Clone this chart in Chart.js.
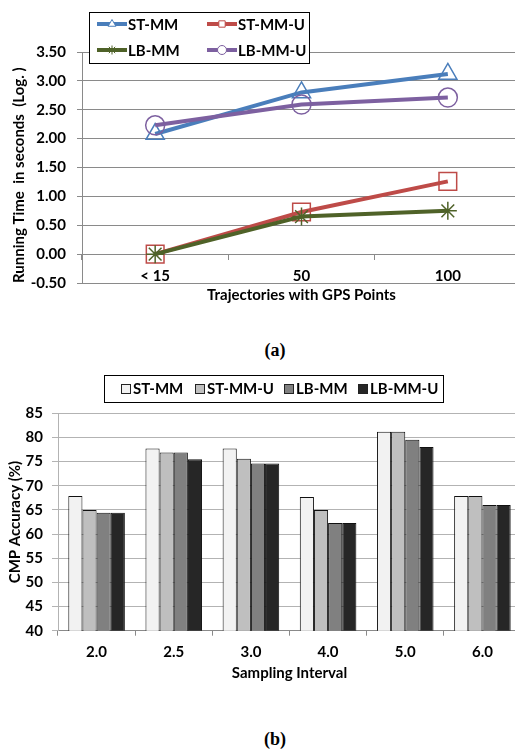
<!DOCTYPE html>
<html>
<head>
<meta charset="utf-8">
<script src="https://cdn.jsdelivr.net/npm/chart.js@4.4.1/dist/chart.umd.min.js"></script>
<style>
  html, body { margin: 0; padding: 0; background: #fff; overflow: hidden; width: 515px; height: 752px; }
  canvas { position: absolute; left: 0; }
  #chartA { top: 0; }
  #chartB { top: 360px; }
  .cap { position: absolute; left: 235px; width: 80px; text-align: center;
         font: bold 18px "Liberation Serif", "Times New Roman", serif; color: #000; }
</style>
</head>
<body>
<canvas id="chartA" width="521" height="337"></canvas>
<div class="cap" style="top:340px">(a)</div>
<canvas id="chartB" width="521" height="326"></canvas>
<div class="cap" style="top:729px">(b)</div>
<script>
// ---- data (a): running time, log seconds
const trajLabels = ['< 15', '50', '100'];
const seriesNames = ['ST-MM', 'ST-MM-U', 'LB-MM', 'LB-MM-U'];
const runStMM = [2.08, 2.80, 3.12];
const runStMMU = [0.00, 0.73, 1.26];
const runLbMM = [0.00, 0.65, 0.75];
const runLbMMU = [2.23, 2.59, 2.71];

// ---- data (b): CMP accuracy (%)
const intervalLabels = ['2.0', '2.5', '3.0', '4.0', '5.0', '6.0'];
const accStMM = [67.9, 77.7, 77.7, 67.7, 81.2, 67.9];
const accStMMU = [65.0, 76.9, 75.6, 65.0, 81.2, 67.9];
const accLbMM = [64.4, 76.9, 74.6, 62.3, 79.5, 66.0];
const accLbMMU = [64.4, 75.5, 74.6, 62.3, 78.0, 66.0];

const FONT = 'Lato, "Liberation Sans", sans-serif';
Chart.defaults.font.family = FONT;
Chart.defaults.font.size = 15;
Chart.defaults.font.weight = 'bold';
Chart.defaults.color = '#000';

const GRID_A = '#8a8a8a';
const GRID_B = '#b3b3b3';

function lineSet(label, data, color, style, radius, order) {
  return {
    label, data, order,
    borderColor: color,
    backgroundColor: color,
    borderWidth: 4,
    pointStyle: style,
    pointRadius: radius,
    pointBorderWidth: 1.5,
    pointBorderColor: color,
    pointBackgroundColor: 'rgba(255,255,255,0)',
    tension: 0
  };
}

function drawMarker(ctx, style, r, x, y) {
  if (Chart.helpers && Chart.helpers.drawPoint) {
    Chart.helpers.drawPoint(ctx, { pointStyle: style, radius: r, borderWidth: 1, rotation: 0 }, x, y);
  }
}

// legend box drawn over the plot, like the original
const legendA = {
  id: 'legendA',
  afterDraw(chart) {
    const ctx = chart.ctx;
    ctx.save();
    ctx.fillStyle = '#fff';
    ctx.fillRect(89, 12, 220, 51);
    ctx.strokeStyle = '#000';
    ctx.lineWidth = 1;
    ctx.strokeRect(89.5, 12.5, 220, 51);
    chart.data.datasets.forEach((ds, i) => {
      const x0 = [97, 207][i % 2];
      const y0 = [24, 50][Math.floor(i / 2)];
      ctx.strokeStyle = ds.borderColor;
      ctx.lineWidth = 4;
      ctx.beginPath();
      ctx.moveTo(x0, y0);
      ctx.lineTo(x0 + 30, y0);
      ctx.stroke();
      ctx.fillStyle = '#fff';
      ctx.strokeStyle = ds.borderColor;
      ctx.lineWidth = 1;
      drawMarker(ctx, ds.pointStyle, 4.5, x0 + 15, y0);
      ctx.fillStyle = '#000';
      ctx.font = 'bold 15px ' + FONT;
      ctx.textBaseline = 'middle';
      ctx.textAlign = 'left';
      ctx.fillText(ds.label, x0 + 31, y0 + 1);
    });
    ctx.restore();
  }
};

const legendB = {
  id: 'legendB',
  afterDraw(chart) {
    const ctx = chart.ctx;
    ctx.save();
    ctx.strokeStyle = '#000';
    ctx.lineWidth = 1;
    ctx.strokeRect(104.5, 15.5, 339, 27);
    const xs = [121, 195, 284, 358];
    chart.data.datasets.forEach((ds, i) => {
      ctx.fillStyle = ds.backgroundColor;
      ctx.fillRect(xs[i], 24, 10, 10);
      ctx.strokeStyle = '#222';
      ctx.strokeRect(xs[i] + 0.5, 24.5, 9, 9);
      ctx.fillStyle = '#000';
      ctx.font = 'bold 15px ' + FONT;
      ctx.textBaseline = 'middle';
      ctx.textAlign = 'left';
      ctx.fillText(ds.label, xs[i] + 12, 29);
    });
    ctx.restore();
  }
};

new Chart(document.getElementById('chartA'), {
  type: 'line',
  data: {
    labels: trajLabels,
    datasets: [
      lineSet(seriesNames[0], runStMM, '#4A7EBB', 'triangle', 10.5, 3),
      lineSet(seriesNames[1], runStMMU, '#BE4B48', 'rect', 12.5, 2),
      lineSet(seriesNames[2], runLbMM, '#4F6228', 'star', 9, 1),
      lineSet(seriesNames[3], runLbMMU, '#7D60A0', 'circle', 9.5, 0)
    ]
  },
  options: {
    responsive: false,
    animation: false,
    layout: { autoPadding: false, padding: { top: 52, left: 0, right: 0, bottom: 54 } },
    plugins: { legend: { display: false }, tooltip: { enabled: false } },
    scales: {
      x: {
        type: 'category',
        position: { y: 0 },
        offset: true,
        grid: { drawOnChartArea: false, offset: true, tickLength: 5, color: GRID_A },
        border: { color: GRID_A },
        ticks: { padding: 8 },
        title: { display: true, text: 'Trajectories with GPS Points', padding: { top: 4, bottom: 4 } },
        afterFit: s => { s.height = 54; }
      },
      y: {
        min: -0.5,
        max: 3.5,
        ticks: { stepSize: 0.5, padding: 11, callback: v => Number(v).toFixed(2) },
        grid: { tickLength: 5, color: GRID_A },
        border: { color: GRID_A },
        title: { display: true, text: 'Running Time  in seconds  (Log. )', align: 'start', padding: { top: 10, bottom: 0 } },
        afterFit: s => { s.width = 82; }
      }
    }
  },
  plugins: [legendA]
});

function barSet(label, data, color) {
  return { label, data, backgroundColor: color, borderColor: '#111', borderWidth: 1,
           categoryPercentage: 0.733, barPercentage: 1.0 };
}

new Chart(document.getElementById('chartB'), {
  type: 'bar',
  data: {
    labels: intervalLabels,
    datasets: [
      barSet(seriesNames[0], accStMM, '#F2F2F2'),
      barSet(seriesNames[1], accStMMU, '#BFBFBF'),
      barSet(seriesNames[2], accLbMM, '#808080'),
      barSet(seriesNames[3], accLbMMU, '#262626')
    ]
  },
  options: {
    responsive: false,
    animation: false,
    layout: { autoPadding: false, padding: { top: 53.3, left: 0, right: 0, bottom: 0 } },
    plugins: { legend: { display: false }, tooltip: { enabled: false } },
    scales: {
      x: {
        grid: { drawOnChartArea: false, offset: true, tickLength: 5, color: '#8a8a8a' },
        border: { color: '#8a8a8a' },
        ticks: { padding: 7 },
        title: { display: true, text: 'Sampling Interval', padding: { top: 4, bottom: 4 } },
        afterFit: s => { s.height = 326 - 270.7; }
      },
      y: {
        min: 40,
        max: 85,
        ticks: { stepSize: 5, padding: 9 },
        grid: { tickLength: 6, color: GRID_B },
        border: { color: GRID_B },
        title: { display: true, text: 'CMP Accuracy (%)', padding: { top: 6, bottom: 0 } },
        afterFit: s => { s.width = 58; }
      }
    }
  },
  plugins: [legendB]
});
</script>
</body>
</html>
